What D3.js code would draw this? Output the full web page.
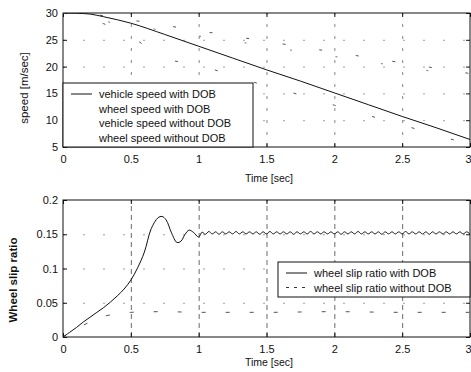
<!DOCTYPE html>
<head>
  <meta charset="utf-8">
  <title>Speed and slip ratio</title>
  <style>
  body { margin: 0; background: #fff; }
  text { font-family: "Liberation Sans", Arial, sans-serif; fill: #111; }
  .tick text { font-size: 11px; }
  .grid line { stroke-width: 0.8; }
  .grid path { display: none; }
  .axis path { display: none; }
  .axis line { stroke: #111; }
  .frame { fill: none; stroke: #111; stroke-width: 1; }
  .legend-box { fill: #fff; stroke: #111; stroke-width: 1; }
  .legend text { font-size: 11px; }
  </style>
</head>

<svg id="chart"></svg>

<script src="https://cdn.jsdelivr.net/npm/d3@7"></script>

<script>
"use strict";

// ---- data ----
var xTicks = [0, 0.5, 1, 1.5, 2, 2.5, 3];
var speedTicks = [5, 10, 15, 20, 25, 30];
var slipTicks = [0, 0.05, 0.1, 0.15, 0.2];

var speedTime = [0, 0.1, 0.2, 0.3, 0.5, 0.75, 1, 1.25, 1.5, 1.75, 2, 2.25, 2.5, 2.75, 3];
var vehicleWithDob = [30, 29.95, 29.8, 29.3, 28.1, 26, 23.8, 21.6, 19.4, 17.3, 15.1, 12.9, 10.7, 8.6, 6.4];
var wheelWithDob = [30, 29.5, 28.9, 28.0, 25.6, 21.6, 20.3, 18.3, 16.4, 14.7, 12.8, 10.9, 9.1, 7.3, 5.4];
var vehicleWithoutDob = [30, 29.95, 29.8, 29.5, 28.7, 27.7, 26.7, 25.7, 24.7, 23.7, 22.7, 21.7, 20.7, 19.7, 18.7];
var wheelWithoutDob = [30, 29.6, 29.1, 28.5, 27.7, 26.7, 25.7, 24.8, 23.8, 22.8, 21.9, 20.9, 20.0, 19.0, 18.0];

var slipTime = [0, 0.05, 0.1, 0.15, 0.2, 0.25, 0.3, 0.35, 0.4, 0.45, 0.5, 0.55, 0.6, 0.65, 0.7, 0.73, 0.76, 0.8, 0.84, 0.87, 0.9, 0.93, 0.96, 1,
  1.025, 1.05, 1.075, 1.1, 1.125, 1.15, 1.175, 1.2, 1.225, 1.25, 1.275, 1.3, 1.325, 1.35, 1.375, 1.4, 1.425, 1.45, 1.475, 1.5,
  1.525, 1.55, 1.575, 1.6, 1.625, 1.65, 1.675, 1.7, 1.725, 1.75, 1.775, 1.8, 1.825, 1.85, 1.875, 1.9, 1.925, 1.95, 1.975, 2,
  2.025, 2.05, 2.075, 2.1, 2.125, 2.15, 2.175, 2.2, 2.225, 2.25, 2.275, 2.3, 2.325, 2.35, 2.375, 2.4, 2.425, 2.45, 2.475, 2.5,
  2.525, 2.55, 2.575, 2.6, 2.625, 2.65, 2.675, 2.7, 2.725, 2.75, 2.775, 2.8, 2.825, 2.85, 2.875, 2.9, 2.925, 2.95, 2.975, 3];
var slipWithDob = [0, 0.007, 0.014, 0.022, 0.029, 0.036, 0.043, 0.051, 0.060, 0.070, 0.083, 0.101, 0.124, 0.158, 0.174, 0.176, 0.171, 0.152, 0.138, 0.140, 0.150, 0.156, 0.153, 0.146,
  0.153, 0.150, 0.154, 0.1505, 0.1535, 0.150, 0.1535, 0.1505, 0.1535, 0.1505, 0.154, 0.1505, 0.1535, 0.1505, 0.1535, 0.1505, 0.1535, 0.150, 0.1535, 0.1505,
  0.154, 0.1505, 0.1535, 0.1505, 0.1535, 0.1505, 0.1535, 0.150, 0.1535, 0.1505, 0.1535, 0.1505, 0.154, 0.1505, 0.1535, 0.1505, 0.1535, 0.1505, 0.1535, 0.1505,
  0.1535, 0.150, 0.1535, 0.1505, 0.1535, 0.1505, 0.154, 0.1505, 0.1535, 0.1505, 0.1535, 0.1505, 0.1535, 0.150, 0.1535, 0.1505, 0.1535, 0.1505, 0.1535, 0.1505,
  0.154, 0.1505, 0.1535, 0.1505, 0.1535, 0.1505, 0.1535, 0.150, 0.1535, 0.1505, 0.1535, 0.1505, 0.1535, 0.1505, 0.1535, 0.1505, 0.1535, 0.1505, 0.1535, 0.1505];
var slipTimeNoDob = [0, 0.1, 0.2, 0.3, 0.4, 0.5, 0.75, 1, 1.5, 2, 2.5, 3];
var slipWithoutDob = [0, 0.012, 0.022, 0.030, 0.034, 0.036, 0.037, 0.036, 0.036, 0.037, 0.036, 0.036];

// ---- layout ----
var totalWidth = 471, totalHeight = 372;
var svg = d3.select("#chart")
    .attr("width", totalWidth)
    .attr("height", totalHeight);

var left = 63, right = 470;

var x = d3.scaleLinear().domain([0, 3]).range([left, right]);

function zip(xs, ys) {
  return xs.map(function(t, i) { return [t, ys[i]]; });
}

/*
 * one MATLAB-like panel: frame, inward ticks, dashed grid
 */
function panel(opt) {
  var top = opt.top, bottom = opt.bottom;
  var y = d3.scaleLinear().domain(opt.yDomain).range([bottom, top]);
  var g = svg.append("g");

  // grid
  g.append("g")
      .attr("class", "grid")
      .attr("transform", "translate(0," + bottom + ")")
      .call(d3.axisBottom(x).tickValues(xTicks.slice(1, -1)).tickSize(-(bottom - top)).tickFormat(""))
    .selectAll("line")
      .attr("stroke", opt.vGridColor)
      .attr("stroke-dasharray", opt.vGridDash);
  g.append("g")
      .attr("class", "grid")
      .attr("transform", "translate(" + left + ",0)")
      .call(d3.axisLeft(y).tickValues(opt.yTicks.slice(1, -1)).tickSize(-(right - left)).tickFormat(""))
    .selectAll("line")
      .attr("stroke-dasharray", "2,18")
      .attr("stroke", "#888");

  // axes with inward ticks
  var bx = g.append("g")
      .attr("class", "axis")
      .attr("transform", "translate(0," + bottom + ")")
      .call(d3.axisBottom(x).tickValues(xTicks).tickSizeInner(-4).tickSizeOuter(0).tickPadding(8)
        .tickFormat(function(d) { return String(d); }));
  // last label sits on the window edge, as in the reference
  bx.selectAll(".tick text")
      .filter(function(d) { return d === 3; })
      .attr("text-anchor", "end")
      .attr("x", 1);
  g.append("g")
      .attr("class", "axis")
      .attr("transform", "translate(" + left + ",0)")
      .call(d3.axisLeft(y).tickValues(opt.yTicks).tickSizeInner(-4).tickSizeOuter(0).tickPadding(5)
        .tickFormat(function(d) { return String(d); }));
  g.append("g")
      .attr("class", "axis")
      .attr("transform", "translate(0," + top + ")")
      .call(d3.axisTop(x).tickValues(xTicks).tickSizeInner(-4).tickSizeOuter(0).tickFormat(""));
  g.append("g")
      .attr("class", "axis")
      .attr("transform", "translate(" + right + ",0)")
      .call(d3.axisRight(y).tickValues(opt.yTicks).tickSizeInner(-4).tickSizeOuter(0).tickFormat(""));

  g.append("rect")
      .attr("class", "frame")
      .attr("x", left).attr("y", top)
      .attr("width", right - left).attr("height", bottom - top);

  // labels
  g.append("text")
      .attr("x", 269)
      .attr("y", bottom + opt.xLabelGap)
      .attr("text-anchor", "middle")
      .style("font-size", "10.5px")
      .text("Time [sec]");
  g.append("text")
      .attr("transform", "translate(" + opt.yLabelX + "," + opt.yLabelY + ") rotate(-90)")
      .attr("text-anchor", "middle")
      .style("font-size", "11.5px")
      .style("font-weight", opt.yLabelWeight)
      .text(opt.yLabel);

  var clipId = "clip" + top;
  svg.append("clipPath").attr("id", clipId)
    .append("rect")
      .attr("x", left).attr("y", top)
      .attr("width", right - left).attr("height", bottom - top);

  return { g: g, y: y, clip: "url(#" + clipId + ")" };
}

function drawLine(p, pts, dash, color, curve) {
  var line = d3.line()
      .x(function(d) { return x(d[0]); })
      .y(function(d) { return p.y(d[1]); })
      .curve(curve || d3.curveMonotoneX);
  p.g.append("path")
      .datum(pts)
      .attr("clip-path", p.clip)
      .attr("fill", "none")
      .attr("stroke", color)
      .attr("stroke-width", 1)
      .attr("stroke-dasharray", dash)
      .attr("d", line);
}

function legend(p, x0, y0, w, rows) {
  var lg = p.g.append("g").attr("class", "legend");
  lg.append("rect")
      .attr("class", "legend-box")
      .attr("x", x0).attr("y", y0)
      .attr("width", w).attr("height", rows.length * 14.5 + 6);
  rows.forEach(function(r, i) {
    var cy = y0 + 11 + i * 14.5;
    lg.append("line")
        .attr("x1", x0 + 8).attr("x2", x0 + 29)
        .attr("y1", cy).attr("y2", cy)
        .attr("stroke", r.color)
        .attr("stroke-dasharray", r.dash);
    lg.append("text")
        .attr("x", x0 + 36)
        .attr("y", cy + 4)
        .text(r.name);
  });
}

// ---- top: speeds ----
var speed = panel({
  top: 13, bottom: 147, yDomain: [5, 30], yTicks: speedTicks,
  yLabel: "speed [m/sec]", yLabelX: 28, yLabelY: 88, yLabelWeight: "normal",
  xLabelGap: 35, vGridDash: "3,9", vGridColor: "#666"
});

drawLine(speed, zip(speedTime, vehicleWithoutDob), "3,34", "#555");
drawLine(speed, zip(speedTime, wheelWithoutDob), "2,44", "#777");
drawLine(speed, zip(speedTime, wheelWithDob), "3,38", "#555");
drawLine(speed, zip(speedTime, vehicleWithDob), null, "#111");

legend(speed, left, 83, 190, [
  { name: "vehicle speed with DOB", color: "#111", dash: null },
  { name: "wheel speed with DOB", color: "#fff", dash: null },
  { name: "vehicle speed without DOB", color: "#fff", dash: null },
  { name: "wheel speed without DOB", color: "#fff", dash: null }
]);

// ---- bottom: slip ratio ----
var slip = panel({
  top: 200, bottom: 337, yDomain: [0, 0.2], yTicks: slipTicks,
  yLabel: "Wheel slip ratio", yLabelX: 17, yLabelY: 280, yLabelWeight: "bold",
  xLabelGap: 29, vGridDash: "5,4", vGridColor: "#444"
});

drawLine(slip, zip(slipTimeNoDob, slipWithoutDob), "4,20", "#555");
drawLine(slip, zip(slipTime, slipWithDob), null, "#111", d3.curveCatmullRom);

legend(slip, 278, 262, 192, [
  { name: "wheel slip ratio with DOB", color: "#111", dash: null },
  { name: "wheel slip ratio without DOB", color: "#333", dash: "3,5" }
]);
</script>
